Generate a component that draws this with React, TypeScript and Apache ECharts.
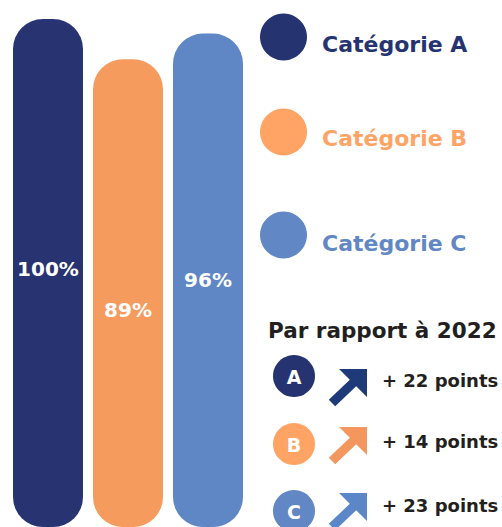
import React, { useEffect, useRef } from "react";
import * as echarts from "echarts";

const categories = ["Catégorie A", "Catégorie B", "Catégorie C"];
const values = [100, 89, 96];
const letters = ["A", "B", "C"];
const deltas = [22, 14, 23];
const compareTitle = "Par rapport à 2022";
const axisMin = -39;
const axisMax = 100;

const barColors = ["#283371", "#F59B5E", "#5F86C5"];
const legendColors = ["#253470", "#FFA465", "#6187C4"];
const arrowColors = ["#1F3A78", "#F4975E", "#5B87C8"];
const labelOffsets = [-4, 17, 0];

const FONT = '"DejaVu Sans", sans-serif';

function arrowPoints(tx: number, ty: number): number[][] {
  const pts = [
    [-28, 0],
    [0, 0],
    [0, 28],
    [-10.8, 17.2],
    [-31.8, 37.2],
    [-38.2, 30.8],
    [-17.2, 10.8],
  ];
  return pts.map(([x, y]) => [tx + x, ty + y]);
}

export default function App() {
  const ref = useRef<HTMLDivElement>(null);
  useEffect(() => {
    if (!ref.current) return;
    const chart = echarts.init(ref.current, undefined, { renderer: "svg" });
    const legendY = [37, 132, 235];
    const legendTextY = [44, 138, 243];
    const rowY = [376, 444, 511];
    const rowTextY = [380, 441, 505];
    const arrowTipY = [369, 427, 493];

    const graphic: any[] = [];
    categories.forEach((c, i) => {
      graphic.push({
        type: "circle",
        shape: { cx: 283.5, cy: legendY[i], r: 23.5 },
        style: { fill: legendColors[i] },
      });
      graphic.push({
        type: "text",
        x: 322,
        y: legendTextY[i],
        style: {
          text: c,
          font: `bold 22px ${FONT}`,
          fill: legendColors[i],
          align: "left",
          verticalAlign: "middle",
        },
      });
    });
    graphic.push({
      type: "text",
      x: 268,
      y: 330,
      style: {
        text: compareTitle,
        font: `bold 21.5px ${FONT}`,
        fill: "#231F20",
        align: "left",
        verticalAlign: "middle",
      },
    });
    letters.forEach((l, i) => {
      graphic.push({
        type: "circle",
        shape: { cx: 294, cy: rowY[i], r: 21 },
        style: { fill: legendColors[i] },
      });
      graphic.push({
        type: "text",
        x: 294,
        y: rowY[i] + 1,
        style: {
          text: l,
          font: `bold 19px ${FONT}`,
          fill: "#FFFFFF",
          align: "center",
          verticalAlign: "middle",
        },
      });
      graphic.push({
        type: "polygon",
        shape: { points: arrowPoints(367, arrowTipY[i]) },
        style: { fill: arrowColors[i] },
      });
      graphic.push({
        type: "text",
        x: 382,
        y: rowTextY[i],
        style: {
          text: `+ ${deltas[i]} points`,
          font: `bold 18px ${FONT}`,
          fill: "#231F20",
          align: "left",
          verticalAlign: "middle",
        },
      });
    });

    chart.setOption({
      animation: false,
      grid: { left: 8, width: 240, top: 19, height: 518 },
      xAxis: { type: "category", data: categories, show: false },
      yAxis: { type: "value", min: axisMin, max: axisMax, show: false },
      series: [
        {
          type: "custom",
          data: values.map((v, i) => [i, v]),
          renderItem: (params: any, api: any) => {
            const idx = api.value(0);
            const v = api.value(1);
            const top = api.coord([idx, v]);
            const bottom = api.coord([idx, axisMin]);
            const w = 70;
            const x = top[0] - w / 2;
            const h = bottom[1] - top[1];
            return {
              type: "group",
              children: [
                {
                  type: "rect",
                  shape: { x, y: top[1], width: w, height: h, r: 30 },
                  style: { fill: barColors[params.dataIndex] },
                },
                {
                  type: "text",
                  x: top[0],
                  y: top[1] + h / 2 + labelOffsets[params.dataIndex],
                  style: {
                    text: `${v}%`,
                    font: `bold 20px ${FONT}`,
                    fill: "#FFFFFF",
                    align: "center",
                    verticalAlign: "middle",
                  },
                },
              ],
            };
          },
        },
      ],
      graphic,
    });
    return () => chart.dispose();
  }, []);
  return (
    <div
      ref={ref}
      style={{ position: "fixed", left: 0, top: 0, width: 502, height: 527, background: "#FFFFFF" }}
    />
  );
}
